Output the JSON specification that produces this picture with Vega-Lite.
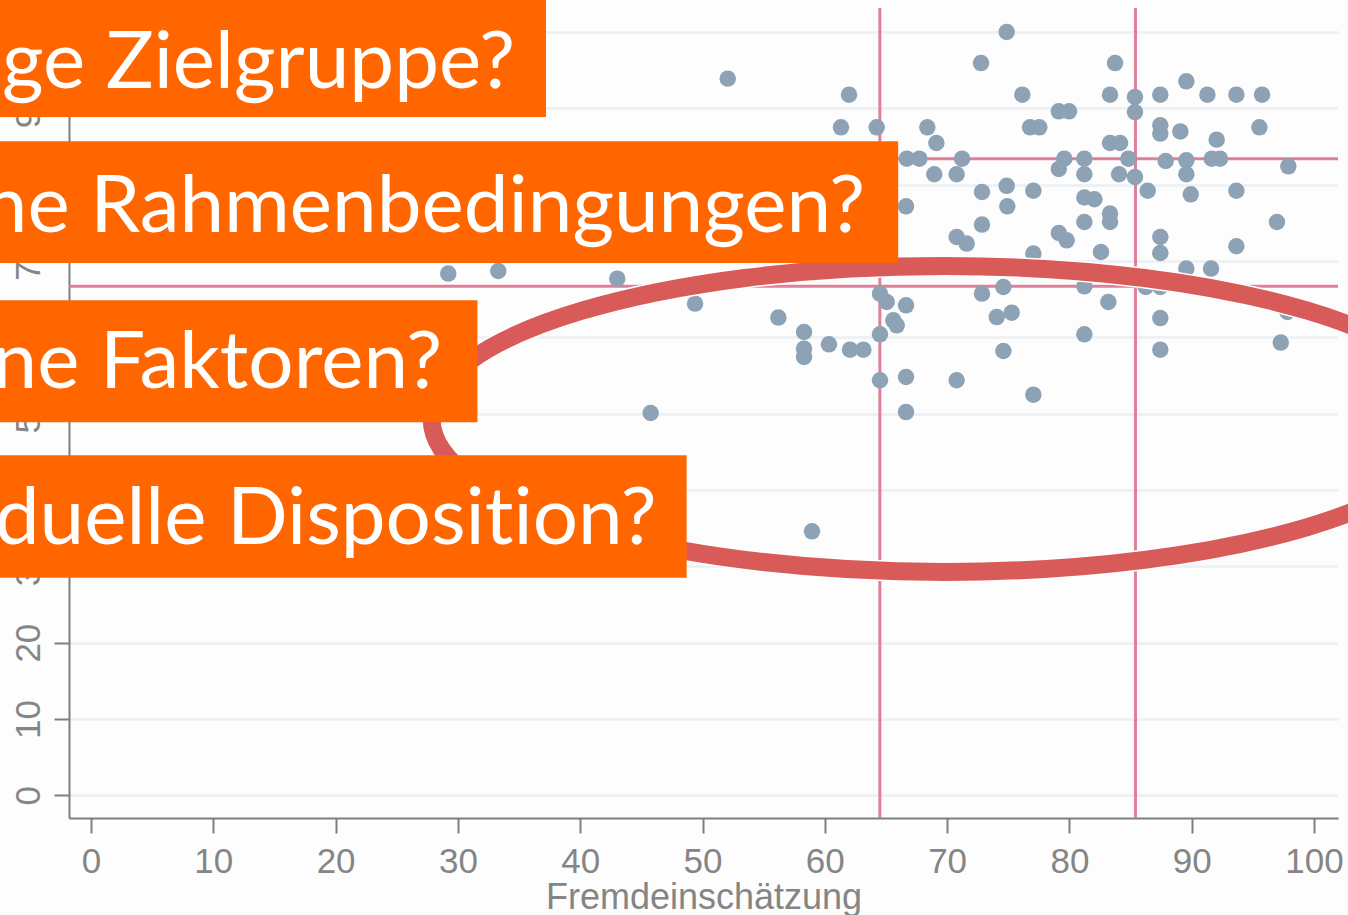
{
  "$schema": "https://vega.github.io/schema/vega-lite/v6.json",
  "width": 1269,
  "height": 810,
  "autosize": {"type": "none"},
  "padding": {"left": 69, "top": 8, "right": 10, "bottom": 97},
  "background": "#fdfdfd",
  "config": {
    "view": {"stroke": null},
    "axis": {
      "domainColor": "#7f7f7f", "domainWidth": 2,
      "tickColor": "#7f7f7f", "tickWidth": 2, "tickSize": 15,
      "labelFont": "Liberation Sans", "labelFontSize": 35, "labelColor": "#858585",
      "titleFont": "Liberation Sans", "titleFontSize": 36, "titleFontWeight": "normal", "titleColor": "#858585"
    }
  },
  "datasets": {
    "points": [
      {"x":52.06,"y":93.87},{"x":61.98,"y":91.77},{"x":61.32,"y":87.49},{"x":64.24,"y":87.49},{"x":68.38,"y":87.49},
      {"x":69.12,"y":85.44},{"x":66.70,"y":83.39},{"x":67.73,"y":83.39},{"x":71.22,"y":83.39},{"x":68.95,"y":81.34},
      {"x":70.78,"y":81.34},{"x":72.77,"y":95.91},{"x":74.87,"y":99.98},{"x":72.85,"y":79.02},{"x":74.87,"y":79.83},
      {"x":83.73,"y":95.91},{"x":76.15,"y":91.77},{"x":83.32,"y":91.77},{"x":85.36,"y":91.46},{"x":85.36,"y":89.49},
      {"x":87.43,"y":91.77},{"x":89.56,"y":93.52},{"x":91.28,"y":91.77},{"x":93.65,"y":91.77},{"x":95.75,"y":91.77},
      {"x":79.13,"y":89.59},{"x":79.97,"y":89.59},{"x":76.78,"y":87.49},{"x":77.54,"y":87.49},{"x":87.43,"y":87.76},
      {"x":87.43,"y":86.67},{"x":89.07,"y":86.96},{"x":95.53,"y":87.49},{"x":92.04,"y":85.88},{"x":83.32,"y":85.44},
      {"x":84.14,"y":85.44},{"x":79.58,"y":83.39},{"x":79.13,"y":82.03},{"x":81.22,"y":83.39},{"x":81.22,"y":81.34},
      {"x":84.82,"y":83.39},{"x":87.87,"y":83.08},{"x":89.56,"y":83.17},{"x":89.56,"y":81.34},{"x":91.64,"y":83.39},
      {"x":92.31,"y":83.39},{"x":97.90,"y":82.38},{"x":84.06,"y":81.34},{"x":85.36,"y":80.99},{"x":77.05,"y":79.18},
      {"x":86.40,"y":79.18},{"x":89.92,"y":78.72},{"x":93.65,"y":79.18},{"x":81.22,"y":78.30},{"x":82.04,"y":78.07},
      {"x":74.92,"y":77.14},{"x":81.22,"y":75.09},{"x":83.32,"y":76.19},{"x":83.32,"y":75.09},{"x":79.13,"y":73.65},
      {"x":79.78,"y":72.69},{"x":87.43,"y":73.13},{"x":87.43,"y":71.03},{"x":93.65,"y":71.91},{"x":96.97,"y":75.09},
      {"x":77.05,"y":70.95},{"x":77.05,"y":68.77},{"x":79.13,"y":68.54},{"x":82.58,"y":71.16},{"x":83.32,"y":68.37},
      {"x":89.56,"y":68.99},{"x":91.58,"y":68.99},{"x":74.60,"y":66.58},{"x":81.22,"y":66.67},{"x":86.24,"y":66.58},
      {"x":87.43,"y":66.58},{"x":75.28,"y":63.22},{"x":74.06,"y":62.64},{"x":83.18,"y":64.61},{"x":87.43,"y":62.51},
      {"x":97.82,"y":63.30},{"x":81.22,"y":60.38},{"x":74.60,"y":58.19},{"x":87.43,"y":58.37},{"x":97.28,"y":59.30},
      {"x":77.05,"y":52.48},{"x":66.64,"y":77.14},{"x":72.85,"y":74.75},{"x":70.78,"y":73.13},{"x":71.60,"y":72.26},
      {"x":58.24,"y":68.77},{"x":64.51,"y":69.03},{"x":49.39,"y":64.40},{"x":56.20,"y":62.57},{"x":58.30,"y":60.68},
      {"x":58.30,"y":58.50},{"x":58.30,"y":57.41},{"x":60.34,"y":59.07},{"x":62.06,"y":58.37},{"x":63.15,"y":58.37},
      {"x":64.51,"y":65.71},{"x":65.06,"y":64.61},{"x":66.64,"y":64.18},{"x":65.60,"y":62.21},{"x":65.88,"y":61.56},
      {"x":64.51,"y":60.38},{"x":72.85,"y":65.71},{"x":64.51,"y":54.36},{"x":66.64,"y":54.79},{"x":70.78,"y":54.36},
      {"x":66.64,"y":50.20},{"x":29.21,"y":68.34},{"x":33.30,"y":68.67},{"x":43.03,"y":67.67},{"x":45.76,"y":50.07},
      {"x":58.95,"y":34.58},{"x":69.9,"y":105.6},{"x":84.2,"y":105.6}
    ],
    "vrules": [{"x":64.5},{"x":85.4}],
    "hrules": [{"y":66.67},{"y":83.39}],
    "ellipse": [{"x":69.8,"y":49.3}],
    "boxes": [
      {"x":-10,"x2":37.2,"y":106.7,"y2":88.85},
      {"x":-10,"x2":66.0,"y":85.66,"y2":69.72},
      {"x":-10,"x2":31.6,"y":64.83,"y2":48.85},
      {"x":-10,"x2":48.7,"y":44.53,"y2":28.51}
    ],
    "labels": [
      {"x":34.67,"y":92.6,"label":"Richtige Zielgruppe?"},
      {"x":63.29,"y":73.74,"label":"Externe Rahmenbedingungen?"},
      {"x":28.70,"y":53.31,"label":"Interne Faktoren?"},
      {"x":46.25,"y":32.9,"label":"Individuelle Disposit‌ion?"}
    ]
  },
  "layer": [
    {
      "data": {"name": "vrules"},
      "mark": {"type": "rule", "color": "#e07f99", "strokeWidth": 3},
      "encoding": {
        "x": {"field": "x", "type": "quantitative", "scale": {"domain": [-1.8, 101.96], "nice": false, "zero": false},
          "axis": {"values": [0,10,20,30,40,50,60,70,80,90,100], "grid": false, "title": "Fremdeinschätzung", "labelPadding": 11, "titlePadding": 1}}
      }
    },
    {
      "data": {"name": "hrules"},
      "mark": {"type": "rule", "color": "#e07f99", "strokeWidth": 3},
      "encoding": {
        "y": {"field": "y", "type": "quantitative", "scale": {"domain": [-2.97, 103.12], "nice": false, "zero": false},
          "axis": {"values": [0,10,20,30,40,50,60,70,80,90,100], "grid": true, "gridColor": "#eef2f5", "gridWidth": 3, "title": null,
            "labelAngle": -90, "labelAlign": "center", "labelBaseline": "alphabetic", "labelPadding": 15}}
      }
    },
    {
      "data": {"name": "points"},
      "mark": {"type": "circle", "color": "#8da2b5", "opacity": 1, "size": 272},
      "encoding": {
        "x": {"field": "x", "type": "quantitative", "scale": {"domain": [-1.8, 101.96], "nice": false, "zero": false},
          "axis": {"values": [0,10,20,30,40,50,60,70,80,90,100], "grid": false, "title": "Fremdeinschätzung", "labelPadding": 11, "titlePadding": 1}},
        "y": {"field": "y", "type": "quantitative", "scale": {"domain": [-2.97, 103.12], "nice": false, "zero": false},
          "axis": {"values": [0,10,20,30,40,50,60,70,80,90,100], "grid": true, "gridColor": "#eef2f5", "gridWidth": 3, "title": null,
            "labelAngle": -90, "labelAlign": "center", "labelBaseline": "alphabetic", "labelPadding": 15}}
      }
    },
    {
      "data": {"name": "ellipse"},
      "mark": {"type": "point", "filled": false, "stroke": "#ffffff", "strokeWidth": 21, "opacity": 1, "size": 1052676,
        "shape": "M -1 0 C -1 -0.1647 -0.5523 -0.2982 0 -0.2982 C 0.5523 -0.2982 1 -0.1647 1 0 C 1 0.1647 0.5523 0.2982 0 0.2982 C -0.5523 0.2982 -1 0.1647 -1 0 Z"},
      "encoding": {
        "x": {"field": "x", "type": "quantitative", "scale": {"domain": [-1.8, 101.96], "nice": false, "zero": false},
          "axis": {"values": [0,10,20,30,40,50,60,70,80,90,100], "grid": false, "title": "Fremdeinschätzung", "labelPadding": 11, "titlePadding": 1}},
        "y": {"field": "y", "type": "quantitative", "scale": {"domain": [-2.97, 103.12], "nice": false, "zero": false},
          "axis": {"values": [0,10,20,30,40,50,60,70,80,90,100], "grid": true, "gridColor": "#eef2f5", "gridWidth": 3, "title": null,
            "labelAngle": -90, "labelAlign": "center", "labelBaseline": "alphabetic", "labelPadding": 15}}
      }
    },
    {
      "data": {"name": "ellipse"},
      "mark": {"type": "point", "filled": false, "stroke": "#d95b59", "strokeWidth": 18, "opacity": 1, "size": 1052676,
        "shape": "M -1 0 C -1 -0.1647 -0.5523 -0.2982 0 -0.2982 C 0.5523 -0.2982 1 -0.1647 1 0 C 1 0.1647 0.5523 0.2982 0 0.2982 C -0.5523 0.2982 -1 0.1647 -1 0 Z"},
      "encoding": {
        "x": {"field": "x", "type": "quantitative", "scale": {"domain": [-1.8, 101.96], "nice": false, "zero": false},
          "axis": {"values": [0,10,20,30,40,50,60,70,80,90,100], "grid": false, "title": "Fremdeinschätzung", "labelPadding": 11, "titlePadding": 1}},
        "y": {"field": "y", "type": "quantitative", "scale": {"domain": [-2.97, 103.12], "nice": false, "zero": false},
          "axis": {"values": [0,10,20,30,40,50,60,70,80,90,100], "grid": true, "gridColor": "#eef2f5", "gridWidth": 3, "title": null,
            "labelAngle": -90, "labelAlign": "center", "labelBaseline": "alphabetic", "labelPadding": 15}}
      }
    },
    {
      "data": {"name": "boxes"},
      "mark": {"type": "rect", "color": "#ff6600", "opacity": 1},
      "encoding": {
        "x": {"field": "x", "type": "quantitative", "scale": {"domain": [-1.8, 101.96], "nice": false, "zero": false},
          "axis": {"values": [0,10,20,30,40,50,60,70,80,90,100], "grid": false, "title": "Fremdeinschätzung", "labelPadding": 11, "titlePadding": 1}},
        "x2": {"field": "x2"},
        "y": {"field": "y", "type": "quantitative", "scale": {"domain": [-2.97, 103.12], "nice": false, "zero": false},
          "axis": {"values": [0,10,20,30,40,50,60,70,80,90,100], "grid": true, "gridColor": "#eef2f5", "gridWidth": 3, "title": null,
            "labelAngle": -90, "labelAlign": "center", "labelBaseline": "alphabetic", "labelPadding": 15}},
        "y2": {"field": "y2"}
      }
    },
    {
      "data": {"name": "labels"},
      "mark": {"type": "text", "color": "#ffffff", "font": "Lato", "fontSize": 80, "align": "right", "baseline": "alphabetic"},
      "encoding": {
        "x": {"field": "x", "type": "quantitative", "scale": {"domain": [-1.8, 101.96], "nice": false, "zero": false},
          "axis": {"values": [0,10,20,30,40,50,60,70,80,90,100], "grid": false, "title": "Fremdeinschätzung", "labelPadding": 11, "titlePadding": 1}},
        "y": {"field": "y", "type": "quantitative", "scale": {"domain": [-2.97, 103.12], "nice": false, "zero": false},
          "axis": {"values": [0,10,20,30,40,50,60,70,80,90,100], "grid": true, "gridColor": "#eef2f5", "gridWidth": 3, "title": null,
            "labelAngle": -90, "labelAlign": "center", "labelBaseline": "alphabetic", "labelPadding": 15}},
        "text": {"field": "label"}
      }
    }
  ]
}
